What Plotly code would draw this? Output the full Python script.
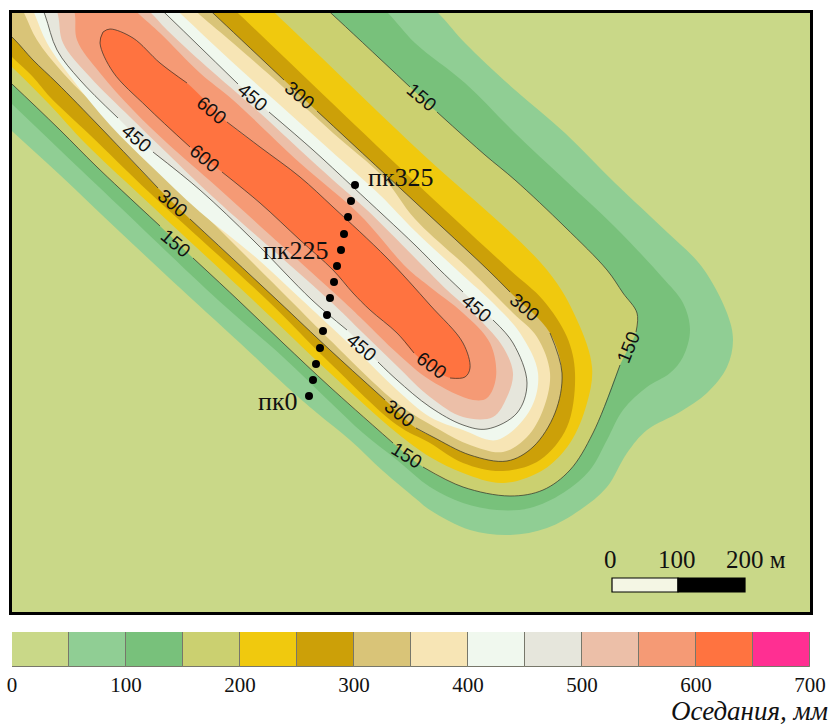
import plotly.graph_objects as go

# Subsidence classes (mm) and colours
class_edges = [0, 50, 100, 150, 200, 250, 300, 350, 400, 450, 500, 550, 600, 650, 700]
class_colors = ["#c9d888", "#90ce94", "#78c17b", "#cbd070", "#f0c90e", "#cca008", "#d9c478",
                "#f7e5b5", "#f0f8ee", "#e6e6dc", "#ecbfa8", "#f59a75", "#ff7340", "#ff2f92"]
tick_values = [0, 100, 200, 300, 400, 500, 600, 700]

c50 = [(-30,92),(13,132),(60,175),(120,232),(193,300),(240,343),(287,387),(317,413),(350,440),(383,471),(415,498),(430,510),(470,530),(510,535),(547,528),(580,510),(607,487),(627,453),(647,430),(680,412),(707,393),(727,367),(733,340),(727,313),(702,267),(668,233),(615,183),(565,133),(515,90),(465,43),(440,15),(400,-22)]
c100 = [(-30,65),(13,105),(60,150),(120,207),(218,300),(283,357),(330,402),(363,433),(397,460),(430,487),(463,503),(497,510),(530,508),(563,493),(590,470),(607,440),(623,410),(647,387),(670,373),(683,357),(690,330),(683,303),(662,277),(615,227),(565,180),(515,133),(465,83),(415,43),(388,13),(355,-18)]
c150 = [(-30,45),(13,85),(60,130),(97,167),(160,226),None,(193,258),(238,300),(283,343),(330,387),(393,443),None,(423,467),(463,487),(510,496),(543,490),(570,470),(593,433),(620,365),None,(636,332),(637,313),(623,293),(607,270),(565,227),(515,180),(485,155),(437,112),None,(410,87),(333,15),(300,-15)]
c200 = [(-30,28),(13,68),(50,105),(85,143),(140,195),(253,300),(330,373),(397,433),(430,457),(463,473),(503,483),(543,470),(570,443),(587,403),(592,367),(577,320),(547,270),(415,147),(277,15),(245,-15)]
c250 = [(-30,18),(13,58),(33,77),(50,97),(90,135),(150,193),(267,300),(330,363),(397,425),(430,443),(463,463),(503,471),(540,460),(567,427),(575,373),(567,337),(543,300),(510,270),(415,182),(240,15),(208,-15)]
c300 = [(-30,0),(13,38),(33,60),(57,83),(100,127),(158,188),None,(190,219),(277,300),(330,350),(385,400),None,(416,428),(433,437),(470,455),(507,461),(533,447),(555,413),(562,373),(550,333),None,(510,292),(488,270),(415,202),(317,111),None,(284,80),(215,15),(183,-15)]
c350 = [(13,-10),(25,15),(37,40),(63,73),(113,123),(167,177),(230,240),(290,300),(330,340),(397,403),(440,430),(470,445),(503,452),(527,437),(543,410),(550,373),(537,337),(513,313),(470,270),(415,219),(383,177),(333,133),(283,87),(233,43),(200,15),(168,-15)]
c400 = [(25,-10),(35,15),(47,43),(73,80),(110,125),(150,165),(200,212),(253,255),(302,300),(330,326),(363,357),(397,390),(430,417),(463,430),(497,440),(530,410),(538,373),(520,333),(497,307),(457,270),(415,231),(380,195),(330,150),(280,105),(230,60),(182,15),(150,-15)]
c450 = [(35,-10),(45,15),(57,50),(80,80),(118,118),None,(153,152),(200,190),(253,240),(312,300),(347,330),None,(378,362),(397,380),(430,407),(463,425),(487,429),(517,413),(527,383),(513,343),(493,320),None,(463,292),(440,270),(415,245),(353,187),(313,150),(269,112),None,(238,84),(200,47),(167,15),(135,-15)]
c500 = [(50,-10),(58,15),(63,43),(90,77),(130,117),(167,153),(213,197),(329,300),(363,333),(397,366),(430,397),(463,417),(493,417),(507,397),(513,373),(503,347),(480,320),(447,290),(427,270),(367,210),(333,180),(300,150),(260,113),(207,67),(167,30),(153,15),(120,-15)]
c550 = [(70,-10),(75,15),(77,40),(100,73),(133,110),(167,143),(217,187),(270,235),(342,300),(363,320),(397,353),(430,380),(473,400),(487,398),(496,377),(490,343),(463,313),(430,287),(407,268),(360,215),(300,163),(233,100),(200,73),(160,33),(140,15),(108,-15)]
c600 = [(103,32),(110,29),(133,38),(160,63),(187,83),None,(227,122),(260,147),(300,177),(333,207),(387,258),(430,305),(463,343),(470,368),(465,377),(450,378),None,(414,353),(397,333),(370,310),(353,293),(333,270),(300,240),(260,203),(222,172),None,(190,147),(147,107),(113,72),(100,43),(103,32)]
band_levels = [c50, c100, c150, c200, c250, c300, c350, c400, c450, c500, c550, c600]
outlined = {150, 300, 450, 600}

# Picket line
picket_x = [309, 313, 316, 320, 323, 327, 330, 334, 337, 341, 344, 348, 351, 355]
picket_y = [396, 380, 364, 348, 331, 315, 298, 282, 266, 250, 234, 217, 201, 185]

# Contour labels: text, x, y, angle
label_text = ["150", "450", "300", "600", "600", "450", "300", "150", "450", "300", "150", "600", "450", "300", "150"]
label_x = [422, 253, 300, 212, 205, 137, 173, 176, 477, 525, 628, 432, 362, 400, 407]
label_y = [97, 97, 95, 110, 158, 138, 203, 243, 308, 307, 347, 365, 347, 413, 455]
label_angle = [40, 40, 40, 40, 40, 40, 40, 40, 40, 40, -68, 36, 40, 38, 32]

fig = go.Figure()

for lev, pts, col in zip(class_edges[1:], band_levels, class_colors[1:]):
    solid = [p for p in pts if p is not None]
    closed = solid if lev == 600 else solid + [(-40, -40)]
    fig.add_trace(go.Scatter(x=[p[0] for p in closed], y=[p[1] for p in closed], mode="lines",
                             fill="toself", fillcolor=col, line=dict(color=col, width=0, shape="spline", smoothing=1),
                             hoverinfo="skip", showlegend=False, xaxis="x", yaxis="y"))

for lev, pts in zip(class_edges[1:], band_levels):
    if lev in outlined:
        fig.add_trace(go.Scatter(x=[p[0] if p else None for p in pts], y=[p[1] if p else None for p in pts],
                                 mode="lines", line=dict(color="#2f2f28", width=0.7, shape="spline", smoothing=1),
                                 hoverinfo="skip", showlegend=False, xaxis="x", yaxis="y"))

fig.add_trace(go.Scatter(x=picket_x, y=picket_y, mode="markers", marker=dict(color="black", size=8),
                         hoverinfo="skip", showlegend=False, xaxis="x", yaxis="y"))

# Legend strip
fig.add_trace(go.Bar(x=[(a + b) / 2 for a, b in zip(class_edges[:-1], class_edges[1:])], y=[1] * 14, width=50,
                     marker=dict(color=class_colors, line=dict(color="#77776a", width=1)),
                     hoverinfo="skip", showlegend=False, xaxis="x2", yaxis="y2"))

ann = []
for t, x, y, a in zip(label_text, label_x, label_y, label_angle):
    ann.append(dict(text=t, x=x, y=y, xref="x", yref="y", textangle=a, showarrow=False,
                    font=dict(family="Liberation Sans", size=19, color="#111")))
serif = "Liberation Serif"
for t, x, y, anchor in [("пк325", 366, 177, "left"), ("пк225", 331, 250, "right"), ("пк0", 300, 401, "right")]:
    ann.append(dict(text=t, x=x, y=y, xref="x", yref="y", xanchor=anchor, showarrow=False,
                    font=dict(family=serif, size=26, color="#111")))
for t, x, anchor in [("0", 610, "center"), ("100", 677, "center"), ("200 м", 724, "left")]:
    ann.append(dict(text=t, x=x, y=559, xref="x", yref="y", xanchor=anchor, showarrow=False,
                    font=dict(family=serif, size=25, color="#111")))
ann.append(dict(text="<i>Оседания, мм</i>", x=1.0, y=1 - 710.5 / 727, xref="paper", yref="paper", xanchor="right", yanchor="middle",
                showarrow=False, font=dict(family=serif, size=27, color="#111")))

shapes = [
    dict(type="rect", xref="x", yref="y", x0=612, x1=678, y0=578, y1=592, fillcolor="#f4f6e4", line=dict(color="black", width=1.2)),
    dict(type="rect", xref="x", yref="y", x0=678, x1=745, y0=578, y1=592, fillcolor="black", line=dict(color="black", width=1.2)),
]

fig.update_layout(
    width=830, height=727, margin=dict(l=0, r=0, t=0, b=0, autoexpand=False), paper_bgcolor="white",
    plot_bgcolor=class_colors[0], annotations=ann, shapes=shapes, bargap=0,
    xaxis=dict(domain=[12 / 830, 810 / 830], range=[12, 810], showgrid=False, zeroline=False, showticklabels=False, automargin=False,
               ticks="", showline=True, mirror=True, linecolor="black", linewidth=3),
    yaxis=dict(domain=[1 - 612 / 727, 1 - 13 / 727], range=[612, 13], showgrid=False, zeroline=False, showticklabels=False, automargin=False,
               ticks="", showline=True, mirror=True, linecolor="black", linewidth=3),
    xaxis2=dict(domain=[12 / 830, 810 / 830], range=[0, 700], anchor="y2", showgrid=False, zeroline=False, automargin=False,
                tickmode="array", tickvals=tick_values, ticks="", showline=False, ticklabelstandoff=3,
                tickfont=dict(family=serif, size=21, color="#111")),
    yaxis2=dict(domain=[1 - 667 / 727, 1 - 632 / 727], range=[0, 1], anchor="x2", showgrid=False, zeroline=False, automargin=False,
                showticklabels=False, ticks=""),
)

fig.write_html("out.html", post_script="document.body.style.margin='0';document.body.style.overflow='hidden';",
               config={"displayModeBar": False})
